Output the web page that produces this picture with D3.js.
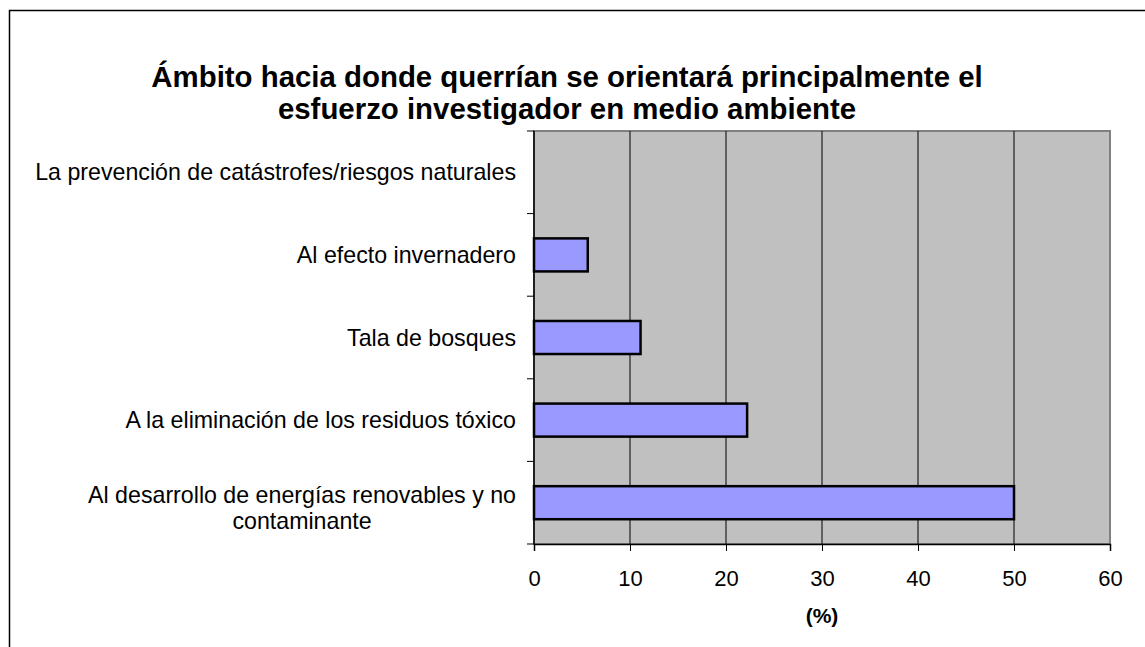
<!DOCTYPE html>
<html>
<head>
<meta charset="utf-8">
<script src="https://cdn.jsdelivr.net/npm/d3@7"></script>
<style>
body { margin: 0; background: #fff; }
svg text { font-family: "Liberation Sans", Arial, sans-serif; fill: #000; }
</style>
</head>
<body>
<div id="chart"></div>
<script>
// data, top category first
var categories = [
  "La prevención de catástrofes/riesgos naturales",
  "Al efecto invernadero",
  "Tala de bosques",
  "A la eliminación de los residuos tóxico",
  "Al desarrollo de energías renovables y no|contaminante"
]
var values = [0, 5.6, 11.1, 22.2, 50]
var xTicks = [0, 10, 20, 30, 40, 50, 60]

var width = 1145, height = 647
var margin = {left: 534, right: 35, top: 131, bottom: 103}

var svg = d3.select("#chart").append("svg")
  .attr("width", width).attr("height", height)

// outer chart frame (right/bottom edges run off the picture)
svg.append("rect")
  .attr("x", 9.5).attr("y", 10.5)
  .attr("width", 1200).attr("height", 700)
  .attr("fill", "#fff").attr("stroke", "#000").attr("stroke-width", 1.5)

var x = d3.scaleLinear().domain([0, 60]).range([margin.left, width - margin.right])
var y = d3.scaleBand().domain(categories).range([margin.top, height - margin.bottom])
  .paddingInner(0.6).paddingOuter(0.3)
var yb = d3.scaleBand().domain(categories).range([margin.top, height - margin.bottom])

var plotW = x(60) - x(0), plotH = (height - margin.bottom) - margin.top

// plot area
svg.append("rect")
  .attr("x", x(0)).attr("y", margin.top)
  .attr("width", plotW).attr("height", plotH)
  .attr("fill", "#c0c0c0").attr("stroke", "#808080").attr("stroke-width", 2)

// gridlines
svg.append("g").selectAll("line")
  .data(xTicks.slice(1, -1))
  .join("line")
  .attr("x1", d => x(d)).attr("x2", d => x(d))
  .attr("y1", margin.top).attr("y2", margin.top + plotH)
  .attr("stroke", "#000").attr("stroke-width", 1)

// bars
var rows = categories.map((c, i) => ({cat: c, val: values[i]}))
svg.append("g").selectAll("rect")
  .data(rows.filter(d => d.val > 0))
  .join("rect")
  .attr("x", x(0))
  .attr("y", d => y(d.cat))
  .attr("width", d => x(d.val) - x(0))
  .attr("height", y.bandwidth())
  .attr("fill", "#9999ff").attr("stroke", "#000").attr("stroke-width", 2.5)

// x axis
var xAxis = d3.axisBottom(x).tickValues(xTicks).tickSize(7).tickPadding(19)
var gx = svg.append("g")
  .attr("transform", "translate(0," + (margin.top + plotH) + ")")
  .call(xAxis)
gx.select(".domain").attr("stroke", "#000").attr("stroke-width", 1.5)
gx.selectAll(".tick line").attr("stroke", "#000")
gx.selectAll(".tick text").attr("font-size", 22)
  .style("font-family", "'Liberation Sans', Arial, sans-serif")

// y axis: ticks between categories
var yTicks = categories.map(c => yb(c)).concat([margin.top + plotH])
svg.append("line")
  .attr("x1", x(0)).attr("x2", x(0))
  .attr("y1", margin.top).attr("y2", margin.top + plotH)
  .attr("stroke", "#000").attr("stroke-width", 1.5)
svg.append("g").selectAll("line")
  .data(yTicks)
  .join("line")
  .attr("x1", x(0) - 7).attr("x2", x(0))
  .attr("y1", d => d).attr("y2", d => d)
  .attr("stroke", "#000")

// category labels
var labelRight = 516
categories.forEach(function(c){
  var lines = c.split("|")
  var cy = yb(c) + yb.bandwidth() / 2
  var g = svg.append("g")
  var texts = lines.map(function(l, i){
    return g.append("text")
      .attr("font-size", 23.2)
      .attr("y", cy + (i - (lines.length - 1) / 2) * 26 + (lines.length > 1 ? 13 : 8))
      .text(l)
  })
  var maxW = d3.max(texts, t => t.node().getComputedTextLength())
  var center = labelRight - maxW / 2
  texts.forEach(t => t.attr("x", center).attr("text-anchor", "middle"))
})

// axis title
svg.append("text")
  .attr("x", x(30)).attr("y", 623)
  .attr("text-anchor", "middle")
  .attr("font-size", 21).attr("font-weight", "bold")
  .text("(%)")

// chart title
var title = ["Ámbito hacia donde querrían se orientará principalmente el",
             "esfuerzo investigador en medio ambiente"]
svg.append("g").selectAll("text")
  .data(title)
  .join("text")
  .attr("x", 567).attr("y", (d, i) => 87 + i * 32)
  .attr("text-anchor", "middle")
  .attr("font-size", 29.4).attr("font-weight", "bold")
  .text(d => d)
</script>
</body>
</html>
